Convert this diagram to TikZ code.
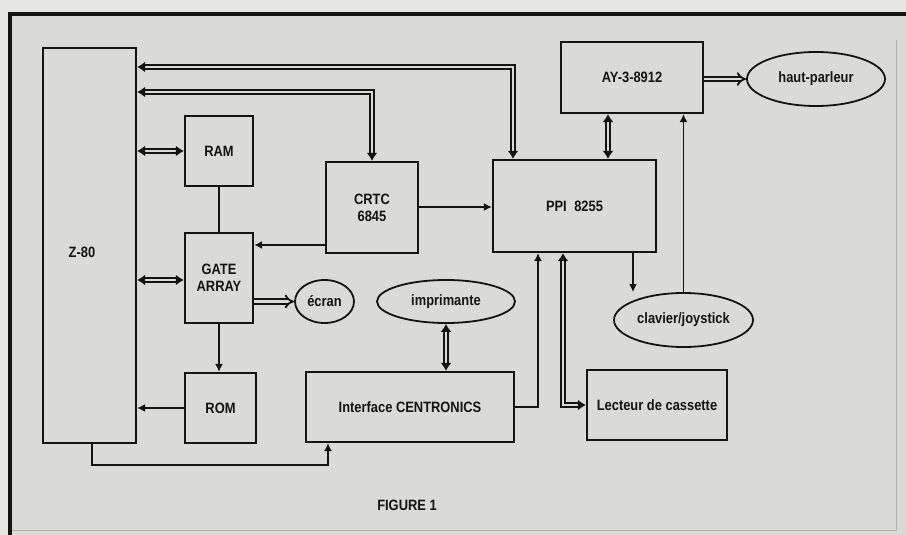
\documentclass[tikz,border=0pt]{standalone}
\usepackage{fontspec}
\setmainfont{Liberation Sans}[FakeStretch=0.86]
\usetikzlibrary{arrows.meta,shapes.geometric,calc}
\definecolor{bg}{RGB}{218,218,214}
\definecolor{outer}{RGB}{230,230,227}
\definecolor{ink}{RGB}{20,20,20}
\begin{document}
\begin{tikzpicture}[x=1pt,y=-1pt,
  every node/.style={font=\fontsize{15}{17}\selectfont\bfseries, text=ink},
  blk/.style={draw=ink, line width=2.2pt, inner sep=0pt, align=center},
  oval/.style={ellipse, draw=ink, line width=1.8pt, inner sep=0pt},
  wire/.style={draw=ink, line width=1.8pt},
  tip/.style={-{Latex[length=8pt,width=8pt]}},
  bus/.style={draw=ink, line width=2pt, double=bg, double distance=1.6pt},
  btip/.style={{Latex[length=8pt,width=11pt]}-{Latex[length=8pt,width=11pt]}},
  fat/.style={draw=ink, line width=1.8pt, double=bg, double distance=2.6pt, -{Implies}}
]
\useasboundingbox (0,0) rectangle (906,535);
\fill[outer] (0,0) rectangle (906,535);
\fill[bg] (10,14) rectangle (906,535);
\draw[ink, line width=3.8pt] (10,535) -- (10,14) -- (906,14);
\draw[gray!60, line width=0.8pt] (12,530) -- (896,530) -- (896,40);

% blocks
\node[blk, minimum width=93, minimum height=395] (Z80) at (89.5,245.5) {};
\node (Z80t) at (82,252) {Z-80};
\node[blk, minimum width=68, minimum height=70] (RAM) at (219,151) {RAM};
\node[blk, minimum width=68, minimum height=90] (GA) at (219,278) {GATE\\ARRAY};
\node[blk, minimum width=71, minimum height=70] (ROM) at (220.5,408) {ROM};
\node[blk, minimum width=92, minimum height=91] (CRTC) at (372,207.5) {CRTC\\6845};
\node[blk, minimum width=163, minimum height=92] (PPI) at (574.5,206) {PPI\enspace 8255};
\node[blk, minimum width=142, minimum height=71] (AY) at (632,77.5) {AY-3-8912};
\node[oval, minimum width=138, minimum height=54] (HP) at (816,79) {haut-parleur};
\node[oval, minimum width=59, minimum height=43] (ECR) at (324.5,301.5) {écran};
\node[oval, minimum width=138, minimum height=43] (IMP) at (446,301.5) {imprimante};
\node[blk, minimum width=208, minimum height=70] (CENT) at (410,407) {Interface CENTRONICS};
\node[blk, minimum width=140, minimum height=70] (LECT) at (657,405) {Lecteur de cassette};
\node[oval, minimum width=139, minimum height=54] (CLAV) at (683.5,320) {clavier/joystick};
\node (FIG) at (407,505) {FIGURE 1};

% buses
\draw[bus, btip] (Z80.east |- 0,67) -| (PPI.north -| 513,0);
\draw[bus, btip] (Z80.east |- 0,92) -| (CRTC.north);
\draw[bus, btip] (Z80.east |- RAM.west) -- (RAM.west);
\draw[bus, btip] (Z80.east |- 0,280) -- (GA.west |- 0,280);
\draw[bus, btip] (IMP.south) -- (CENT.north -| IMP.south);
\draw[bus, btip] (PPI.south -| 563,0) |- (LECT.west);
\draw[bus, btip] (AY.south -| 608,0) -- (PPI.north -| 608,0);
\draw[fat] (GA.east |- ECR.west) -- (ECR.west);
\draw[fat] (AY.east |- HP.west) -- (HP.west);

% single wires
\draw[wire] (RAM.south) -- (GA.north);
\draw[wire, tip] (CRTC.west |- 0,245) -- (GA.east |- 0,245);
\draw[wire, tip] (CRTC.east |- 0,207) -- (PPI.west |- 0,207);
\draw[wire, tip] (GA.south) -- (GA.south |- ROM.north);
\draw[wire, tip] (ROM.west) -- (Z80.east |- ROM.west);
\draw[wire, tip] (Z80.south -| 92,0) |- (328,465) -- (CENT.south -| 328,0);
\draw[wire, tip] (CENT.east |- 0,407) -| (PPI.south -| 538,0);
\draw[wire, tip] (PPI.south -| 633,0) -- (CLAV.north -| 633,0);
\draw[wire, tip] (CLAV.north) -- (AY.south -| CLAV.north);
\end{tikzpicture}
\end{document}
